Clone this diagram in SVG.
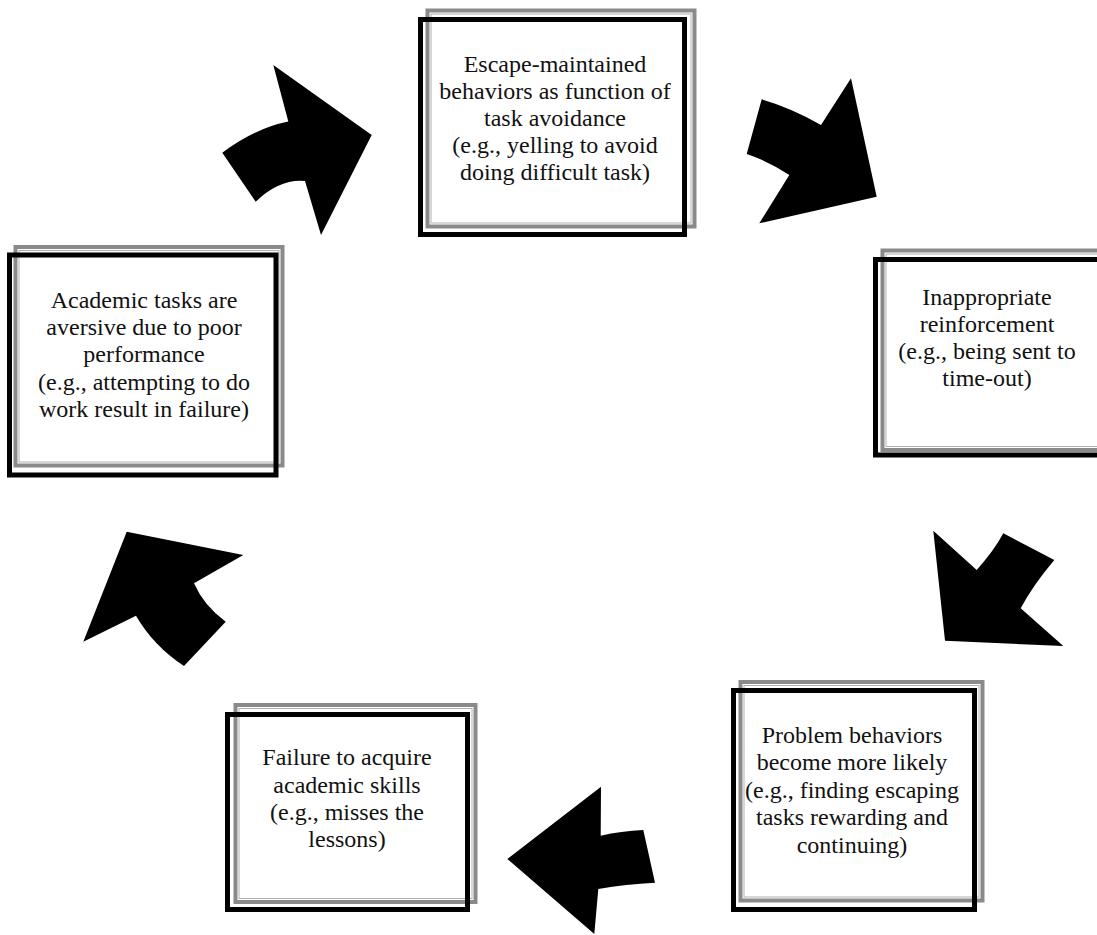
<svg xmlns="http://www.w3.org/2000/svg" width="1097" height="935" viewBox="0 0 1097 935">
<style>
.bg{fill:#fff;stroke:none}
.gray{fill:none;stroke:#8a8a8a;stroke-width:4}
.gray2{fill:none;stroke:#b0b0b0;stroke-width:1}
.blk{fill:none;stroke:#000;stroke-width:5}
text{font-family:"Liberation Serif","Times New Roman",serif;font-size:24px;fill:#111;text-anchor:middle}
.arrow{fill:#000;stroke:none}
</style>
<rect x="0" y="0" width="1097" height="935" fill="#fff"/>
<g id="connectors">
<path class="arrow" d="M222.3,152.7 Q254.7,128.3 288.3,121.5 L273.3,65 L371.7,135 L321,235 L305,181 Q279.7,178.7 255.7,201.7 Z"/>
<path class="arrow" d="M761.7,99.3 Q791.7,107.9 821,125 L851,78.3 L876.7,196.7 L759.3,223.3 L789.3,175 Q768,161 746.7,154 Z"/>
<path class="arrow" d="M933.3,530.7 L976.7,570 Q994.6,549.8 1003.3,533.3 L1054.3,560 Q1032.5,585.9 1020.7,608.3 L1063.3,646 L945,640.7 Z"/>
<path class="arrow" d="M507.3,859 L601,786.7 L600.7,835.7 Q621,831 643.3,830 L655,882.7 Q626,884 598.3,889 L594.3,934 Z"/>
<path class="arrow" d="M126.7,531.7 L243.3,555 L194,583.3 Q203.6,605.5 225.7,621.7 L184,666 Q153.4,645.8 136,615.7 L83.3,641.7 Z"/>
</g>
<g id="node1">
<rect class="bg" x="420.5" y="19.5" width="264" height="215"/>
<rect class="gray" x="427.5" y="10.5" width="267" height="216"/>
<rect class="gray2" x="431" y="14" width="260" height="209"/>
<rect class="blk" x="420.5" y="19.5" width="264" height="215"/>
<text x="555" y="72">Escape-maintained</text>
<text x="555" y="99">behaviors as function of</text>
<text x="555" y="126">task avoidance</text>
<text x="555" y="153">(e.g., yelling to avoid</text>
<text x="555" y="180">doing difficult task)</text>
</g>
<g id="node2">
<rect class="bg" x="875.5" y="259.5" width="225" height="195.5"/>
<rect class="gray" x="882.5" y="250.5" width="222" height="199.5"/>
<rect class="gray2" x="886" y="254" width="218" height="192.5"/>
<rect class="blk" x="875.5" y="259.5" width="225" height="195.5"/>
<text x="987" y="305">Inappropriate</text>
<text x="987" y="332">reinforcement</text>
<text x="987" y="359">(e.g., being sent to</text>
<text x="987" y="386">time-out)</text>
</g>
<g id="node3">
<rect class="bg" x="9.5" y="255" width="266.5" height="220"/>
<rect class="gray" x="15.5" y="247" width="267" height="218.5"/>
<rect class="gray2" x="19" y="250.5" width="260" height="211.5"/>
<rect class="blk" x="9.5" y="255" width="266.5" height="220"/>
<text x="144" y="308">Academic tasks are</text>
<text x="144" y="335">aversive due to poor</text>
<text x="144" y="362">performance</text>
<text x="144" y="390">(e.g., attempting to do</text>
<text x="144" y="417">work result in failure)</text>
</g>
<g id="node4">
<rect class="bg" x="733.5" y="690.5" width="241" height="219"/>
<rect class="gray" x="740.5" y="682" width="242" height="218.5"/>
<rect class="gray2" x="744" y="685.5" width="235" height="211.5"/>
<rect class="blk" x="733.5" y="690.5" width="241" height="219"/>
<text x="852" y="743">Problem behaviors</text>
<text x="852" y="770">become more likely</text>
<text x="852" y="798">(e.g., finding escaping</text>
<text x="852" y="825">tasks rewarding and</text>
<text x="852" y="853">continuing)</text>
</g>
<g id="node5">
<rect class="bg" x="227.5" y="714.5" width="240" height="195"/>
<rect class="gray" x="235.5" y="705" width="240" height="197"/>
<rect class="gray2" x="239" y="708.5" width="233" height="190"/>
<rect class="blk" x="227.5" y="714.5" width="240" height="195"/>
<text x="347" y="765">Failure to acquire</text>
<text x="347" y="793">academic skills</text>
<text x="347" y="820">(e.g., misses the</text>
<text x="347" y="847">lessons)</text>
</g>
</svg>
